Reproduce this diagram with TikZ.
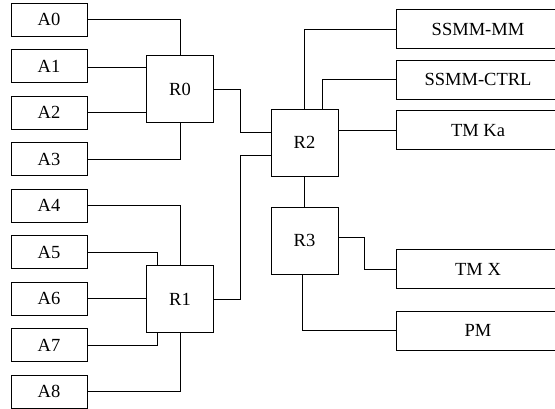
\documentclass[tikz,border=0pt]{standalone}
\usepackage{fontspec}
\setmainfont{Liberation Serif}
\usepackage{tikz}
\usetikzlibrary{calc}

\begin{document}
\begin{tikzpicture}[x=1pt,y=-1pt,line width=0.8pt,
    abox/.style={draw,minimum width=76pt,minimum height=33pt,inner sep=0pt},
    rbox/.style={draw,minimum width=67pt,minimum height=67pt,inner sep=0pt},
    dbox/.style={draw,minimum width=164pt,minimum height=39pt,inner sep=0pt},
    wire/.style={line width=0.8pt}]
  \fontsize{18.5}{22}\selectfont
  % Constants
  \pgfmathsetmacro\ax{49}
  \pgfmathsetmacro\ay{19.7}
  \pgfmathsetmacro\s{46.5}
  \pgfmathsetmacro\dx{478}
  % Boundary
  \path[use as bounding box] (0,0) rectangle (555,408);
  % Inputs
  \node[abox] (A0) at (\ax,\ay) {A0};
  \node[abox] (A1) at (\ax,\ay+\s) {A1};
  \node[abox] (A2) at (\ax,\ay+2*\s) {A2};
  \node[abox] (A3) at (\ax,\ay+3*\s) {A3};
  \node[abox] (A4) at (\ax,\ay+4*\s) {A4};
  \node[abox] (A5) at (\ax,\ay+5*\s) {A5};
  \node[abox] (A6) at (\ax,\ay+6*\s) {A6};
  \node[abox] (A7) at (\ax,\ay+7*\s) {A7};
  \node[abox] (A8) at (\ax,\ay+8*\s) {A8};
  % Routers
  \node[rbox] (R0) at (180,89) {R0};
  \node[rbox] (R1) at (180,299) {R1};
  \node[rbox] (R2) at (304.5,142.5) {R2};
  \node[rbox] (R3) at (304.5,240.5) {R3};
  % Outputs
  \node[dbox] (MM) at (\dx,29) {SSMM-MM};
  \node[dbox] (CTRL) at (\dx,79.7) {SSMM-CTRL};
  \node[dbox] (TMKa) at (\dx,130.3) {TM Ka};
  \node[dbox] (TMX) at (\dx,269.3) {TM X};
  \node[dbox] (PM) at (\dx,330.7) {PM};
  % R0 links
  \draw[wire] (A0.east) -| (R0.north);
  \draw[wire] ([yshift=-1.6pt]A1.east) -- ([yshift=-1.6pt]A1.east -| R0.west);
  \draw[wire] (A2.east) -- (A2.east -| R0.west);
  \draw[wire] (A3.east) -| (R0.south);
  % R1 links
  \draw[wire] (A4.east) -| (R1.north);
  \draw[wire] (A5.east) -| ([xshift=-23pt]R1.north);
  \draw[wire] (A6.east) -- (A6.east -| R1.west);
  \draw[wire] (A7.east) -| ([xshift=-23pt]R1.south);
  \draw[wire] (A8.east) -| (R1.south);
  % Up to R2
  \draw[wire] (R0.east) -- ++(26,0) |- ([yshift=10pt]R2.west);
  \draw[wire] (R1.east) -- ++(26,0) |- ([yshift=-13pt]R2.west);
  % R2 links
  \draw[wire] (MM.west) -| (R2.north);
  \draw[wire] (CTRL.west) -| ([xshift=17.5pt]R2.north);
  \draw[wire] (TMKa.west) -- (TMKa.west -| R2.east);
  \draw[wire] (R2.south) -- (R3.north);
  % R3 links
  \draw[wire] ([yshift=3pt]R3.east) -- ++(26,0) |- (TMX.west);
  \draw[wire] ([xshift=-1.8pt]R3.south) |- (PM.west);
\end{tikzpicture}
\end{document}
